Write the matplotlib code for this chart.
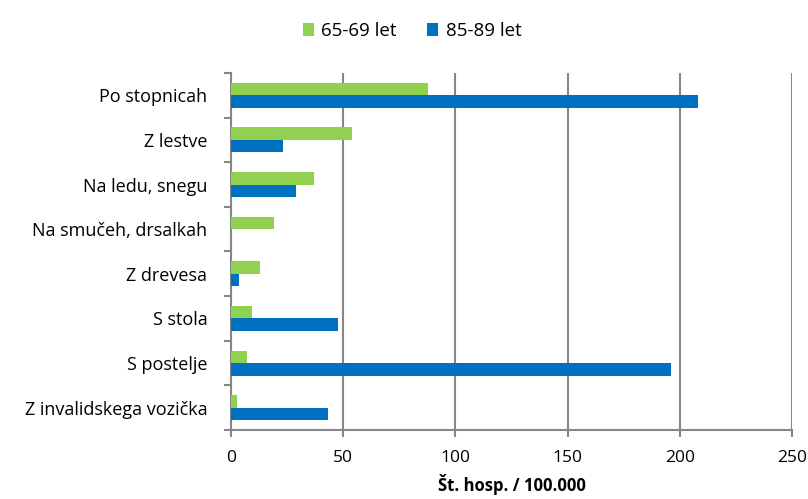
import numpy as np
import matplotlib.pyplot as plt

categories = ['Po stopnicah', 'Z lestve', 'Na ledu, snegu', 'Na smučeh, drsalkah',
              'Z drevesa', 'S stola', 'S postelje', 'Z invalidskega vozička']
v_65_69 = [88, 54, 37, 19, 13, 9.5, 7, 2.5]
v_85_89 = [208, 23, 29, 0, 3.5, 47.5, 196, 43]

plt.rcParams['font.family'] = ['Open Sans', 'DejaVu Sans']
plt.rcParams['font.size'] = 11

fig = plt.figure(figsize=(8.08, 4.99), dpi=100)
ax = fig.add_axes([0.286, 0.138, 0.694, 0.716])

grey = '#868686'
y = np.arange(len(categories))
h = 0.28
ax.barh(y - h / 2, v_65_69, height=h, color='#92D050', label='65-69 let', zorder=3)
ax.barh(y + h / 2, v_85_89, height=h, color='#0070C0', label='85-89 let', zorder=3)

ax.set_ylim(len(categories) - 0.5, -0.5)
ax.set_xlim(0, 250)
ax.set_xticks([0, 50, 100, 150, 200, 250])
ax.set_yticks(np.arange(-0.5, len(categories), 1))
ax.set_yticklabels([])
ax.set_yticks(y, minor=True)
ax.set_yticklabels(categories, minor=True)
ax.tick_params(axis='y', which='minor', length=0, pad=17, labelsize=13)
ax.tick_params(axis='y', which='major', length=5, width=1.5, color=grey)
ax.tick_params(axis='x', length=5, width=1.5, color=grey, pad=9, labelsize=12.5)

ax.grid(axis='x', color=grey, linewidth=1.5, zorder=0)
for s in ['top', 'right']:
    ax.spines[s].set_visible(False)
for s in ['left', 'bottom']:
    ax.spines[s].set_color(grey)
    ax.spines[s].set_linewidth(1.5)

ax.set_xlabel('Št. hosp. / 100.000', fontweight='bold', labelpad=6, fontsize=12)

fig.legend(loc='upper center', bbox_to_anchor=(0.51, 0.99), ncol=2, frameon=False,
           handlelength=0.6, handleheight=0.7, handletextpad=0.4, columnspacing=1.6,
           fontsize=13.5)

plt.savefig('out.png', dpi=100)
